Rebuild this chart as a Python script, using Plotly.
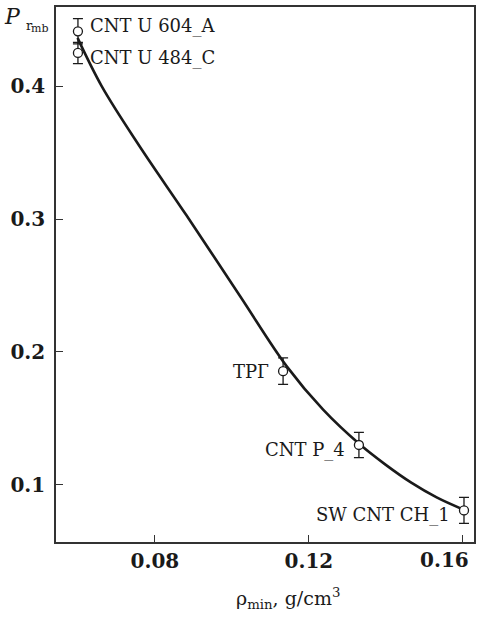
import plotly.graph_objects as go

# ---- data ----
sample_names = ["CNT U 604_A", "CNT U 484_C", "ТРГ", "CNT P_4", "SW CNT CH_1"]
rho_min = [0.0600, 0.0600, 0.1133, 0.1330, 0.1603]
p_rmb = [0.4415, 0.4252, 0.1854, 0.1298, 0.0805]
p_err = [0.0095, 0.0080, 0.0100, 0.0095, 0.0098]

curve_x = [0.0599, 0.0662, 0.0761, 0.0881, 0.1021, 0.1142, 0.1237, 0.1332, 0.1399, 0.1466, 0.1532, 0.1600]
curve_y = [0.4365, 0.4000, 0.3545, 0.3032, 0.2420, 0.1892, 0.1564, 0.1303, 0.1150, 0.1014, 0.0903, 0.0813]

x_ticks = [0.08, 0.12, 0.16]
x_tick_labels = ["0.08", "0.12", "0.16"]
y_ticks = [0.1, 0.2, 0.3, 0.4]
y_tick_labels = ["0.1", "0.2", "0.3", "0.4"]

# label placement: (side, yshift)
label_side = ["right", "right", "left", "left", "left"]
label_yshift = [5, -5, 0, -5, -5]

SERIF = "DejaVu Serif"
INK = "#1a1a1a"
TICKFONT = dict(family=SERIF, size=20, color=INK, weight="bold")

fig = go.Figure()
fig.add_trace(go.Scatter(
    x=curve_x, y=curve_y, mode="lines",
    line=dict(color=INK, width=2.6, shape="spline", smoothing=1.0),
    hoverinfo="skip", showlegend=False))
fig.add_trace(go.Scatter(
    x=rho_min, y=p_rmb, mode="markers",
    marker=dict(symbol="circle", size=9, color="white", line=dict(color=INK, width=1.3)),
    error_y=dict(type="data", array=p_err, visible=True, color=INK, thickness=1.3, width=5),
    showlegend=False))

for name, xv, yv, side, ys in zip(sample_names, rho_min, p_rmb, label_side, label_yshift):
    fig.add_annotation(
        x=xv, y=yv, text=name, showarrow=False,
        xanchor="left" if side == "right" else "right", yanchor="middle",
        xshift=10 if side == "right" else -12, yshift=ys,
        font=dict(family=SERIF, size=18, color=INK))

# last x tick label is pulled left to stay inside the picture (as in the reference)
fig.add_annotation(
    x=x_ticks[-1], xref="x", yref="paper", y=0, yshift=-4,
    xanchor="right", yanchor="top", xshift=8,
    text=x_tick_labels[-1], showarrow=False, font=TICKFONT)

# axis titles
fig.add_annotation(
    xref="paper", yref="paper", x=0.555, y=-0.105, yanchor="middle", xanchor="center",
    text="ρ<sub>min</sub>, g/cm<sup>3</sup>", showarrow=False,
    font=dict(family=SERIF, size=19, color=INK))
fig.add_annotation(
    xref="paper", yref="paper", x=-0.078, y=0.982, xanchor="right", yanchor="middle",
    text="<i>P</i>", showarrow=False,
    font=dict(family=SERIF, size=22, color=INK))
fig.add_annotation(
    xref="paper", yref="paper", x=-0.0766, y=0.966, xanchor="left", yanchor="middle",
    text="r", showarrow=False,
    font=dict(family=SERIF, size=13, color=INK))
fig.add_annotation(
    xref="paper", yref="paper", x=-0.0646, y=0.959, xanchor="left", yanchor="middle",
    text="mb", showarrow=False,
    font=dict(family=SERIF, size=11, color=INK))

axis_common = dict(
    showgrid=False, zeroline=False, showline=True, linecolor="#333333", linewidth=1.5,
    mirror=True, ticks="inside", ticklen=7, tickwidth=1.3, tickcolor="#333333",
    automargin=False, tickfont=TICKFONT)

fig.update_layout(
    width=477, height=617,
    margin=dict(l=56, r=3, t=7, b=75),
    paper_bgcolor="white", plot_bgcolor="white",
    xaxis=dict(range=[0.0543, 0.1629], tickvals=x_ticks,
               ticktext=x_tick_labels[:-1] + [""], **axis_common),
    yaxis=dict(range=[0.0567, 0.4598], tickvals=y_ticks, ticklabelstandoff=5,
               ticktext=y_tick_labels, **axis_common),
)

fig.write_html("out.html")
